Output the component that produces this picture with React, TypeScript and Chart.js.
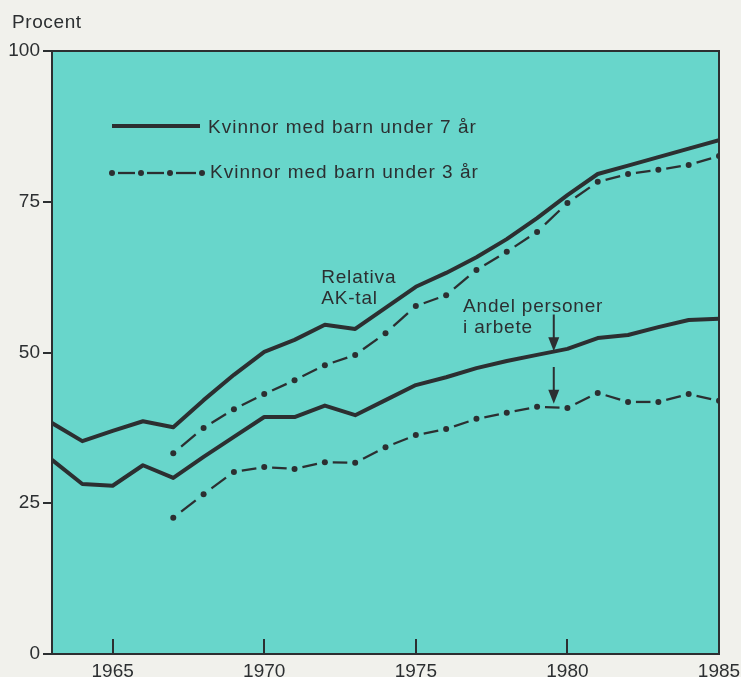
import React, { useEffect, useRef } from "react";
import { Chart, registerables } from "chart.js";

Chart.register(...registerables);

// ---------- data ----------
const years = [
  1963, 1964, 1965, 1966, 1967, 1968, 1969, 1970, 1971, 1972, 1973, 1974,
  1975, 1976, 1977, 1978, 1979, 1980, 1981, 1982, 1983, 1984, 1985,
];
// Relativa AK-tal
const akUnder7 = [
  38.3, 35.3, 37.0, 38.6, 37.6, 42.1, 46.3, 50.1, 52.1, 54.6, 53.9, 57.4,
  60.9, 63.2, 65.8, 68.8, 72.3, 76.1, 79.6, 81.0, 82.4, 83.8, 85.2,
];
const akUnder3 = [
  null, null, null, null, 33.3, 37.5, 40.6, 43.1, 45.4, 47.9, 49.6, 53.2,
  57.7, 59.5, 63.7, 66.7, 70.0, 74.8, 78.3, 79.6, 80.3, 81.1, 82.6,
];
// Andel personer i arbete
const arbUnder7 = [
  32.2, 28.2, 27.9, 31.3, 29.2, 32.7, 36.0, 39.3, 39.3, 41.2, 39.6, 42.1,
  44.6, 45.9, 47.4, 48.6, 49.6, 50.6, 52.4, 52.9, 54.2, 55.4, 55.6,
];
const arbUnder3 = [
  null, null, null, null, 22.6, 26.5, 30.2, 31.0, 30.7, 31.8, 31.7, 34.3,
  36.3, 37.3, 39.0, 40.0, 41.0, 40.8, 43.3, 41.8, 41.8, 43.1, 42.0,
];

const xTickYears = [1965, 1970, 1975, 1980, 1985];
const xInnerTickYears = [1965, 1970, 1975, 1980];
const yTickValues = [0, 25, 50, 75, 100];

const legendLabels = ["Kvinnor med barn under 7 år", "Kvinnor med barn under 3 år"];
const yAxisTitle = "Procent";
const akLabel = ["Relativa", "AK-tal"];
const arbLabel = ["Andel personer", "i arbete"];

// ---------- styles ----------
const INK = "#2c2f31";
const PLOT_BG = "#68d6cb";
const PAGE_BG = "#f1f1ec";
const FONT_FAMILY = "'Liberation Sans', Arial, sans-serif";
const FONT_SIZE = 19;

const toXY = (vals: (number | null)[]) =>
  years.map((y, i) => ({ x: y, y: vals[i] }));

const segLen = (c: any) => Math.hypot(c.p1.x - c.p0.x, c.p1.y - c.p0.y);

const dashDotSegment = {
  borderDash: (c: any) => [segLen(c) * 0.48, 100000],
  borderDashOffset: (c: any) => -segLen(c) * 0.26 - (c.p0DataIndex % 2) * 0.001,
};

function drawArrow(ctx: CanvasRenderingContext2D, x: number, yFrom: number, yTo: number) {
  const head = 14;
  const half = 5.5;
  ctx.beginPath();
  ctx.lineWidth = 2;
  ctx.moveTo(x, yFrom);
  ctx.lineTo(x, yTo - head + 2);
  ctx.stroke();
  ctx.beginPath();
  ctx.moveTo(x - half, yTo - head);
  ctx.lineTo(x + half, yTo - head);
  ctx.lineTo(x, yTo);
  ctx.closePath();
  ctx.fill();
}

const decorPlugin = {
  id: "decor",
  beforeDraw(chart: any) {
    const { ctx, chartArea: a } = chart;
    ctx.save();
    ctx.fillStyle = PAGE_BG;
    ctx.fillRect(0, 0, chart.width, chart.height);
    ctx.fillStyle = PLOT_BG;
    ctx.fillRect(a.left, a.top, a.right - a.left, a.bottom - a.top);
    ctx.restore();
  },
  afterDraw(chart: any) {
    const { ctx, chartArea: a, scales } = chart;
    const xs = scales.x;
    const ys = scales.y;
    ctx.save();
    ctx.strokeStyle = INK;
    ctx.fillStyle = INK;
    ctx.lineCap = "butt";

    // frame
    ctx.lineWidth = 2;
    ctx.strokeRect(a.left, a.top, a.right - a.left, a.bottom - a.top);

    // inward x ticks
    ctx.lineWidth = 2;
    for (const v of xInnerTickYears) {
      const px = Math.round(xs.getPixelForValue(v));
      ctx.beginPath();
      ctx.moveTo(px, a.bottom);
      ctx.lineTo(px, a.bottom - 15);
      ctx.stroke();
    }

    // texts
    ctx.font = `${FONT_SIZE}px ${FONT_FAMILY}`;
    (ctx as any).letterSpacing = "0.6px";
    ctx.textAlign = "left";
    ctx.textBaseline = "alphabetic";

    ctx.fillText(yAxisTitle, 12, 28);

    (ctx as any).letterSpacing = "0.8px";
    // annotations (data anchored)
    ctx.fillText(akLabel[0], xs.getPixelForValue(1971.88), ys.getPixelForValue(61.5));
    ctx.fillText(akLabel[1], xs.getPixelForValue(1971.88), ys.getPixelForValue(58.0));
    ctx.fillText(arbLabel[0], xs.getPixelForValue(1976.56), ys.getPixelForValue(56.7));
    ctx.fillText(arbLabel[1], xs.getPixelForValue(1976.56), ys.getPixelForValue(53.2));

    // arrows
    const ax = xs.getPixelForValue(1979.55);
    drawArrow(ctx, ax, ys.getPixelForValue(56.3), ys.getPixelForValue(50.2));
    drawArrow(ctx, ax, ys.getPixelForValue(47.6), ys.getPixelForValue(41.5));

    // legend
    (ctx as any).letterSpacing = "1px";
    const L = a.left;
    const T = a.top;
    ctx.lineWidth = 4;
    ctx.beginPath();
    ctx.moveTo(L + 60, T + 75);
    ctx.lineTo(L + 148, T + 75);
    ctx.stroke();
    ctx.fillText(legendLabels[0], L + 156, T + 82);

    const dots = [L + 60, L + 89, L + 118, L + 150];
    const dy = T + 122;
    ctx.lineWidth = 2.3;
    for (let i = 0; i < dots.length; i++) {
      ctx.beginPath();
      ctx.arc(dots[i], dy, 3, 0, Math.PI * 2);
      ctx.fill();
      if (i < dots.length - 1) {
        ctx.beginPath();
        ctx.moveTo(dots[i] + 6, dy);
        ctx.lineTo(dots[i + 1] - 6, dy);
        ctx.stroke();
      }
    }
    ctx.fillText(legendLabels[1], L + 158, T + 127);

    ctx.restore();
  },
};

export default function App() {
  const ref = useRef<HTMLCanvasElement | null>(null);

  useEffect(() => {
    document.body.style.margin = "0";
    document.body.style.background = PAGE_BG;
    const canvas = ref.current;
    if (!canvas) return;
    const font = { family: FONT_FAMILY, size: FONT_SIZE };
    const chart = new Chart(canvas, {
      type: "line",
      data: {
        datasets: [
          {
            label: "AK-tal, barn under 7 år",
            data: toXY(akUnder7),
            borderColor: INK,
            borderWidth: 4,
            pointRadius: 0,
            tension: 0,
            borderJoinStyle: "round",
          },
          {
            label: "AK-tal, barn under 3 år",
            data: toXY(akUnder3),
            borderColor: INK,
            borderWidth: 2.3,
            pointRadius: 3,
            pointBorderWidth: 0,
            pointBackgroundColor: INK,
            tension: 0,
            segment: dashDotSegment,
          },
          {
            label: "I arbete, barn under 7 år",
            data: toXY(arbUnder7),
            borderColor: INK,
            borderWidth: 4,
            pointRadius: 0,
            tension: 0,
            borderJoinStyle: "round",
          },
          {
            label: "I arbete, barn under 3 år",
            data: toXY(arbUnder3),
            borderColor: INK,
            borderWidth: 2.3,
            pointRadius: 3,
            pointBorderWidth: 0,
            pointBackgroundColor: INK,
            tension: 0,
            segment: dashDotSegment,
          },
        ],
      },
      options: {
        animation: false,
        responsive: false,
        events: [],
        layout: { padding: { left: 0, top: 51, right: 22, bottom: 0 } },
        plugins: {
          legend: { display: false },
          tooltip: { enabled: false },
          title: { display: false },
        },
        scales: {
          x: {
            type: "linear",
            min: 1963,
            max: 1985,
            afterBuildTicks: (s: any) => {
              s.ticks = xTickYears.map((v) => ({ value: v }));
            },
            afterFit: (s: any) => {
              s.height = 23;
              s.paddingLeft = 0;
              s.paddingRight = 0;
            },
            ticks: {
              font,
              color: INK,
              padding: 6,
              maxRotation: 0,
              autoSkip: false,
              callback: (v: any) => String(v),
            },
            grid: { display: false, drawTicks: false },
            border: { display: false },
          },
          y: {
            type: "linear",
            min: 0,
            max: 100,
            afterBuildTicks: (s: any) => {
              s.ticks = yTickValues.map((v) => ({ value: v }));
            },
            afterFit: (s: any) => {
              s.width = 52;
              s.paddingTop = 0;
              s.paddingBottom = 0;
            },
            ticks: { font, color: INK, padding: 3, callback: (v: any) => String(v) },
            grid: {
              drawOnChartArea: false,
              drawTicks: true,
              tickLength: 9,
              color: INK,
              lineWidth: 2,
            },
            border: { display: false },
          },
        },
      } as any,
      plugins: [decorPlugin],
    });
    return () => chart.destroy();
  }, []);

  return (
    <div style={{ width: 741, height: 677, background: PAGE_BG }}>
      <canvas ref={ref} width={741} height={677} style={{ display: "block" }} />
    </div>
  );
}
